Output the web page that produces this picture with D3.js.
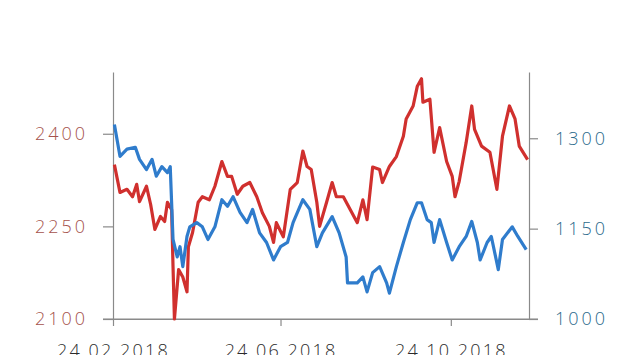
<!DOCTYPE html>
<html>
<head>
<meta charset="utf-8">
<script src="https://cdn.jsdelivr.net/npm/d3@7"></script>
<style>
  html, body { margin: 0; padding: 0; background: #fff; }
  svg { display: block; }
  .tick text { font-family: "Open Sans", sans-serif; }
</style>
</head>
<body>
<svg id="chart" width="630" height="355"></svg>
<script>
// days counted from 24.02.2018
const startDate = new Date(2018, 1, 24);
const endDay = 298;

// red series, left axis
const redDay = [1, 5, 10, 14, 17, 19, 24, 27, 30, 34, 37, 39, 42, 43, 44, 47, 50, 53, 54, 57,
  61, 64, 69, 73, 78, 82, 85, 89, 93, 98, 103, 107, 112, 115, 117, 122, 127, 132, 136, 139,
  142, 146, 148, 153, 157, 160, 165, 170, 175, 179, 182, 186, 191, 193, 198, 203, 208, 210, 215, 218,
  221, 222, 227, 230, 234, 239, 243, 245, 248, 253, 257, 259, 264, 270, 275, 279, 284, 288, 291, 297];
const redValue = [2350, 2305, 2310, 2298, 2318, 2290, 2315, 2285, 2245, 2266, 2258, 2289, 2277, 2185, 2100, 2180, 2168, 2144, 2217, 2240,
  2289, 2298, 2293, 2315, 2355, 2331, 2331, 2302, 2315, 2321, 2298, 2272, 2250, 2224, 2256, 2233, 2310, 2321, 2372, 2347,
  2342, 2289, 2250, 2289, 2321, 2298, 2298, 2277, 2256, 2293, 2261, 2346, 2342, 2321, 2347, 2363, 2396, 2424, 2445, 2477,
  2489, 2451, 2456, 2370, 2410, 2355, 2331, 2298, 2323, 2386, 2445, 2407, 2380, 2370, 2310, 2396, 2445, 2424, 2380, 2358];

// blue series, right axis
const blueDay = [1, 5, 10, 16, 19, 24, 28, 31, 35, 39, 41, 43, 46, 48, 50, 53, 55, 60, 64, 68,
  73, 78, 82, 86, 91, 96, 100, 105, 110, 115, 120, 125, 129, 136, 141, 146, 150, 157, 162, 167,
  168, 175, 179, 182, 186, 191, 196, 198, 203, 208, 213, 218, 221, 225, 228, 230, 234, 239, 243, 248,
  253, 257, 261, 263, 268, 271, 276, 279, 286, 290, 296];
const blueValue = [1323, 1270, 1282, 1285, 1265, 1248, 1265, 1237, 1253, 1243, 1253, 1132, 1103, 1120, 1087, 1137, 1153, 1160, 1153, 1132,
  1153, 1198, 1187, 1203, 1177, 1160, 1182, 1143, 1127, 1098, 1120, 1127, 1160, 1198, 1182, 1120, 1143, 1170, 1143, 1103,
  1060, 1060, 1070, 1045, 1077, 1087, 1060, 1043, 1087, 1127, 1165, 1193, 1193, 1165, 1160, 1127, 1165, 1127, 1098, 1120,
  1137, 1162, 1127, 1098, 1127, 1137, 1082, 1132, 1153, 1137, 1115];

const leftTicks = [2100, 2250, 2400];
const rightTicks = [1000, 1150, 1300];
const dateTicks = ["2018-02-24", "2018-06-24", "2018-10-24"];

const redColor = "#d0302e";
const blueColor = "#2f7ccc";
const axisColor = "#8a8a8a";

const svg = d3.select("#chart");
const x0 = 113, x1 = 529, yTop = 72, yBot = 319;

const x = d3.scaleTime()
    .domain([startDate, d3.timeDay.offset(startDate, endDay)])
    .range([x0, x1]);
const yL = d3.scaleLinear().domain([2100, 2500]).range([yBot, yTop]);
const yR = d3.scaleLinear().domain([1000, 1410]).range([yBot, yTop]);

const toDate = d => d3.timeDay.offset(startDate, d);
const redData = redDay.map((d, i) => ({ date: toDate(d), v: redValue[i] }));
const blueData = blueDay.map((d, i) => ({ date: toDate(d), v: blueValue[i] }));

// axes
const parse = d3.timeParse("%Y-%m-%d");
const xAxis = d3.axisBottom(x)
    .tickValues(dateTicks.map(parse))
    .tickFormat(d3.timeFormat("%d.%m.%Y"))
    .tickSize(7).tickSizeOuter(0);
const leftAxis = d3.axisLeft(yL).tickValues(leftTicks).tickFormat(d3.format("d"))
    .tickSize(10).tickSizeOuter(0).tickPadding(15);
const rightAxis = d3.axisRight(yR).tickValues(rightTicks).tickFormat(d3.format("d"))
    .tickSize(9).tickSizeOuter(0).tickPadding(17);

const styleAxis = (g, color) => {
  g.select(".domain").attr("stroke", axisColor).attr("stroke-width", 1.2);
  g.selectAll(".tick line").attr("stroke", axisColor).attr("stroke-width", 1.2);
  g.selectAll(".tick text").attr("fill", color).attr("font-size", 18)
      .attr("font-weight", 300).style("letter-spacing", "3px");
};

svg.append("g").attr("transform", `translate(0,${yBot})`).call(xAxis)
    .call(g => styleAxis(g, "#2b2b2b"))
    .call(g => g.selectAll(".tick text").style("letter-spacing", "2.2px").attr("y", 21).attr("dy", "0.95em"));
svg.append("g").attr("transform", `translate(${x0},0)`).call(leftAxis)
    .call(g => styleAxis(g, "#a5524c"));
svg.append("g").attr("transform", `translate(${x1},0)`).call(rightAxis)
    .call(g => styleAxis(g, "#2c6a8c"));

// x axis line runs across full width under the y axes ticks
svg.append("line").attr("x1", x0 - 10).attr("x2", x1 + 9).attr("y1", yBot).attr("y2", yBot)
    .attr("stroke", axisColor).attr("stroke-width", 1.2);

const lineL = d3.line().x(d => x(d.date)).y(d => yL(d.v));
const lineR = d3.line().x(d => x(d.date)).y(d => yR(d.v));

svg.append("path").datum(redData).attr("d", lineL)
    .attr("fill", "none").attr("stroke", redColor).attr("stroke-width", 3.2).attr("stroke-linejoin", "round");
svg.append("path").datum(blueData).attr("d", lineR)
    .attr("fill", "none").attr("stroke", blueColor).attr("stroke-width", 3.2).attr("stroke-linejoin", "round");
</script>
</body>
</html>
